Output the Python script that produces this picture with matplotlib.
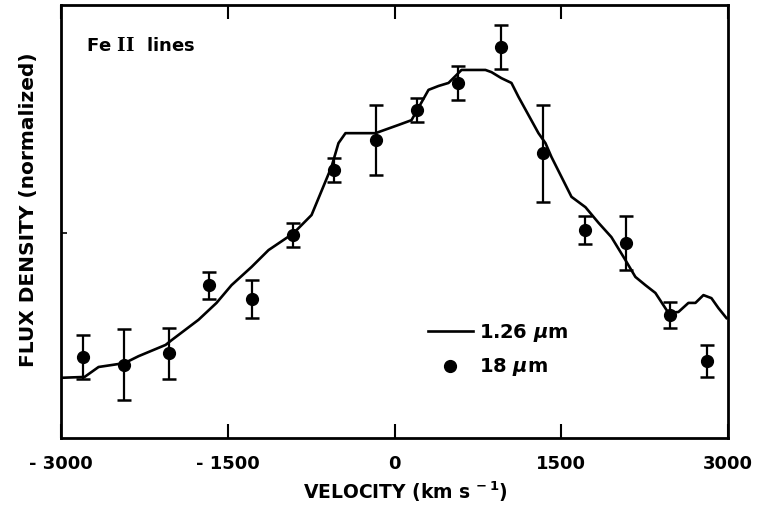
import matplotlib
matplotlib.use("Agg")
import matplotlib.pyplot as plt
from matplotlib.lines import Line2D

plt.rcParams['font.family'] = ['DejaVu Sans']
plt.rcParams['font.weight'] = 'bold'
plt.rcParams['axes.labelweight'] = 'bold'
plt.rcParams['mathtext.fontset'] = 'custom'
plt.rcParams['mathtext.rm'] = 'DejaVu Serif:bold'
plt.rcParams['mathtext.it'] = 'DejaVu Sans:italic:bold'
plt.rcParams['mathtext.sf'] = 'DejaVu Sans:bold'
plt.rcParams['mathtext.bf'] = 'DejaVu Serif:bold'

# 18 micron data points (velocity km/s, normalized flux, error)
vel_18 = [-2800, -2430, -2030, -1665, -1280, -910, -540, -170,
          205, 575, 960, 1340, 1710, 2085, 2480, 2815]
flux_18 = [0.187, 0.169, 0.196, 0.353, 0.321, 0.469, 0.619, 0.688,
           0.757, 0.820, 0.903, 0.658, 0.480, 0.450, 0.284, 0.178]
err_18 = [0.050, 0.082, 0.059, 0.031, 0.045, 0.028, 0.027, 0.080,
          0.028, 0.040, 0.051, 0.112, 0.032, 0.062, 0.030, 0.037]

# 1.26 micron profile
vel_126 = [-3004, -2788, -2662, -2428, -2302, -2059, -2005, -1763, -1601, -1466,
           -1286, -1133, -908, -746, -567, -504, -441, -171, 36, 153,
           306, 396, 486, 603, 818, 872, 962, 1052, 1115, 1295,
           1358, 1412, 1592, 1718, 1835, 1951, 2077, 2167, 2257, 2347,
           2464, 2554, 2644, 2707, 2779, 2851, 2914, 2986]
flux_126 = [0.139, 0.141, 0.164, 0.173, 0.189, 0.215, 0.226, 0.273, 0.312, 0.353,
            0.395, 0.434, 0.473, 0.515, 0.626, 0.681, 0.704, 0.704, 0.723, 0.734,
            0.804, 0.813, 0.820, 0.850, 0.850, 0.845, 0.831, 0.820, 0.788, 0.704,
            0.681, 0.649, 0.557, 0.533, 0.497, 0.464, 0.411, 0.372, 0.353, 0.335,
            0.289, 0.291, 0.312, 0.312, 0.330, 0.323, 0.300, 0.277]

xticks = [-3000, -1500, 0, 1500, 3000]
xticklabels = ['- 3000', '- 1500', '0', '1500', '3000']

fig = plt.figure(figsize=(7.62, 5.23), dpi=100)
ax = fig.add_axes([61/762, 1 - 438/523, (728 - 61)/762, (438 - 5)/523])

ax.plot(vel_126, flux_126, color='black', lw=1.9, solid_joinstyle='round')
ax.errorbar(vel_18, flux_18, yerr=err_18, fmt='o', color='black',
            markersize=8.5, elinewidth=1.6, capsize=5, capthick=1.8)

ax.set_xlim(-3000, 3000)
ax.set_ylim(0, 1)
ax.set_xticks(xticks)
ax.set_xticklabels(xticklabels, fontsize=13, fontweight='bold')
ax.set_yticks([0.473])
ax.set_yticklabels([])
ax.tick_params(axis='x', direction='in', length=10, width=1.5, top=True, pad=12)
ax.tick_params(axis='y', direction='in', length=4, width=1.2)
for s in ax.spines.values():
    s.set_linewidth(2.0)

ax.set_xlabel('VELOCITY (km s$^{\\mathsf{\\,-1}}$)', fontsize=13.5, fontweight='bold')
ax.set_ylabel('FLUX DENSITY (normalized)', fontsize=14.5, fontweight='bold')
ax.xaxis.set_label_coords(0.516, -0.095)
ax.yaxis.set_label_coords(-0.034, 0.528)

ax.text(0.037, 0.905, 'Fe $\\mathrm{II}$  lines', transform=ax.transAxes, fontsize=13,
        fontweight='bold', va='center', ha='left')

handles = [Line2D([], [], color='black', lw=1.9),
           Line2D([], [], color='black', marker='o', linestyle='none', markersize=8.5)]
ax.legend(handles, ['1.26 $\\mu$m', '18 $\\mu$m'], loc='center left',
          bbox_to_anchor=(428/762, 1 - 350/523), bbox_transform=fig.transFigure,
          frameon=False, prop={'size': 14, 'weight': 'bold'}, handlelength=2.3,
          handletextpad=0.3, labelspacing=0.65, borderpad=0, borderaxespad=0)

fig.savefig('out.png', dpi=100)
